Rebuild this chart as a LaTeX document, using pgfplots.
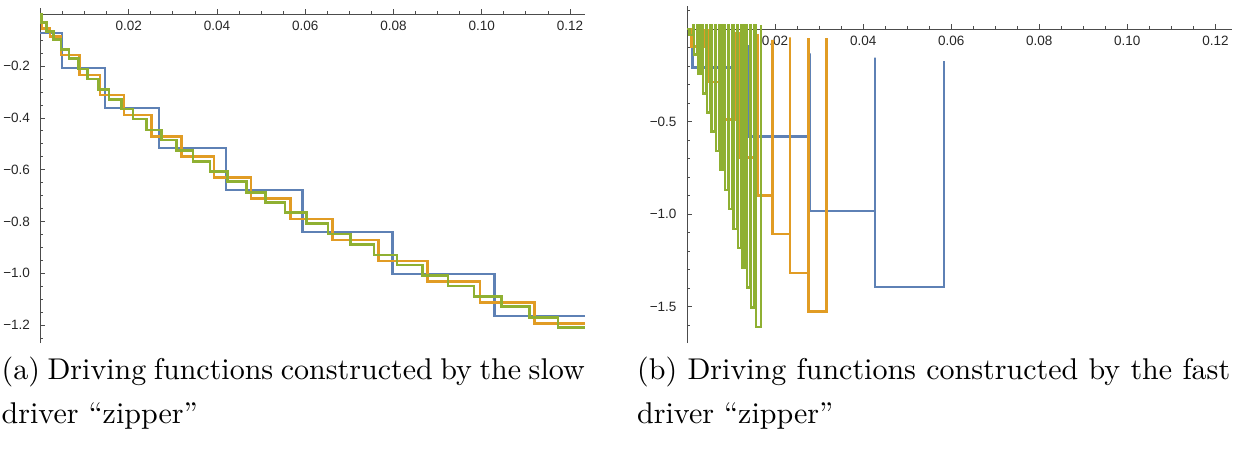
\documentclass[border=0pt]{standalone}
\usepackage{fontspec}
\usepackage{pgfplots}
\pgfplotsset{compat=1.18}
\newfontfamily\ticksans{Liberation Sans}
\newfontfamily\capfont{lmroman10-regular}[Extension=.otf, Ligatures=TeX]
\definecolor{mblue}{rgb}{0.368417,0.506779,0.709798}
\definecolor{morange}{rgb}{0.880722,0.611041,0.142051}
\definecolor{mgreen}{rgb}{0.560181,0.691569,0.194885}

\pgfplotsset{zipperaxis/.style={
  scale only axis, axis lines=middle,
  axis line style={-, black!70, line width=0.9pt},
  tick align=inside, major tick length=5pt, minor tick length=3pt,
  every tick/.style={black!70, line width=0.8pt},
  xtick={0.02,0.04,0.06,0.08,0.10,0.12},
  xticklabels={0.02,0.04,0.06,0.08,0.10,0.12},
  minor xtick={0.005,0.01,0.015,0.025,0.03,0.035,0.045,0.05,0.055,0.065,0.07,0.075,0.085,0.09,0.095,0.105,0.11,0.115},
  ticklabel style={font=\ticksans\fontsize{13.5}{15}\selectfont, text=black!85},
  xticklabel style={yshift=-3pt},
  yticklabel style={xshift=-7pt},
  xmin=0, clip=false,
  every axis plot/.append style={line width=2.5pt, line join=miter, mark=none},
}}

\begin{document}
\begin{tikzpicture}
\path[use as bounding box] (0pt,0pt) rectangle (1235pt,-460pt);

% slow driver
\begin{axis}[zipperaxis, at={(40.5pt,-343pt)}, anchor=south west,
  width=544.5pt, height=335pt, xmax=0.1234, ymin=-1.269, ymax=0.0243,
  ytick={-1.2,-1,-0.8,-0.6,-0.4,-0.2},
  yticklabels={−1.2,−1.0,−0.8,−0.6,−0.4,−0.2},
  minor ytick={-1.25,-1.15,-1.1,-1.05,-0.95,-0.9,-0.85,-0.75,-0.7,-0.65,-0.55,-0.5,-0.45,-0.35,-0.3,-0.25,-0.15,-0.1,-0.05}]
\addplot[mblue, const plot] coordinates {
(0,-0.072) (0.00487,-0.207) (0.0146,-0.362) (0.0268,-0.516) (0.042,-0.678)
(0.0594,-0.841) (0.0798,-1.003) (0.1029,-1.165) (0.1234,-1.165)};
\addplot[morange, const plot] coordinates {
(0,0) (0.0003,-0.0541) (0.00215,-0.0865) (0.00464,-0.1571) (0.00879,-0.2344)
(0.01348,-0.3116) (0.01891,-0.3888) (0.02519,-0.4726) (0.03198,-0.5498)
(0.03937,-0.6293) (0.04768,-0.7104) (0.05667,-0.7903) (0.06618,-0.8714)
(0.0766,-0.9525) (0.0877,-1.0324) (0.09955,-1.112) (0.112,-1.1931) (0.1234,-1.1931)};
\addplot[mgreen, const plot] coordinates {
(0,0) (0.00027,-0.0324) (0.0014,-0.0672) (0.0029,-0.0965) (0.00464,-0.1351)
(0.00646,-0.1699) (0.00856,-0.2112) (0.0106,-0.2498) (0.01309,-0.2896)
(0.01552,-0.3282) (0.01839,-0.3656) (0.02095,-0.4042) (0.02405,-0.4467)
(0.02745,-0.4853) (0.03085,-0.5266) (0.03461,-0.5691) (0.03839,-0.6077)
(0.0424,-0.6463) (0.0467,-0.6873) (0.05101,-0.7274) (0.05538,-0.766)
(0.06029,-0.8069) (0.06519,-0.8482) (0.07026,-0.888) (0.07554,-0.9293)
(0.08081,-0.968) (0.08657,-1.0093) (0.09237,-1.049) (0.09826,-1.0903)
(0.10446,-1.129) (0.11087,-1.1699) (0.11728,-1.21) (0.1234,-1.21)};
\end{axis}

% fast driver
\begin{axis}[zipperaxis, at={(687pt,-343pt)}, anchor=south west,
  width=544.7pt, height=337pt, xmax=0.1237, ymin=-1.697, ymax=0.1254,
  ytick={-1.5,-1,-0.5},
  yticklabels={−1.5,−1.0,−0.5},
  minor ytick={-1.7,-1.6,-1.4,-1.3,-1.2,-1.1,-0.9,-0.8,-0.7,-0.6,-0.4,-0.3,-0.2,-0.1,0.1}]
\addplot[mblue] coordinates {
(0,0) (0.001294,0) (0.001294,-0.2059) (0.013394,-0.2059) (0.013394,-0.0946)
(0.013916,-0.0946) (0.013916,-0.5811) (0.027923,-0.5811) (0.027923,-0.1303)
(0.027923,-0.9827) (0.042679,-0.9827) (0.042679,-0.1541) (0.042679,-1.3935)
(0.058343,-1.3935) (0.058343,-0.1719)};
\addplot[morange] coordinates {
(0,0) (0.001067,0) (0.001067,-0.0946) (0.004086,-0.0946) (0.004086,-0.004)
(0.004767,-0.004) (0.004767,-0.2854) (0.00765,-0.2854) (0.00765,-0.01)
(0.007832,-0.01) (0.007832,-0.4892) (0.011283,-0.4892) (0.011283,-0.02)
(0.011873,-0.02) (0.011873,-0.6946) (0.015255,-0.6946) (0.015255,-0.031)
(0.016005,-0.031) (0.016005,-0.9005) (0.019455,-0.9005) (0.019455,-0.058)
(0.019455,-1.107) (0.023383,-1.107) (0.023383,-0.044) (0.023383,-1.3195)
(0.027537,-1.3195) (0.027537,-0.049) (0.027537,-1.527) (0.031714,-1.527)
(0.031714,-0.049)};
\addplot[mgreen] coordinates {
(0,0) (0.000568,0) (0.000568,-0.0303) (0.001317,-0.0303) (0.001317,0.02)
(0.001589,0.02) (0.001589,-0.1357) (0.002338,-0.1357) (0.002338,0.02)
(0.002588,0.02) (0.002588,-0.2411) (0.003337,-0.2411) (0.003337,0.02)
(0.003587,0.02) (0.003587,-0.3465) (0.004336,-0.3465) (0.004336,0.02)
(0.004586,0.02) (0.004586,-0.4492) (0.005335,-0.4492) (0.005335,0.02)
(0.005585,0.02) (0.005585,-0.5541) (0.006334,-0.5541) (0.006334,0.02)
(0.006583,0.02) (0.006583,-0.6584) (0.007333,-0.6584) (0.007333,0.02)
(0.007582,0.02) (0.007582,-0.7611) (0.008331,-0.7611) (0.008331,0.02)
(0.008581,0.02) (0.008581,-0.8692) (0.00933,-0.8692) (0.00933,0.02)
(0.00958,0.02) (0.00958,-0.9735) (0.010329,-0.9735) (0.010329,0.02)
(0.010579,0.02) (0.010579,-1.08) (0.011328,-1.08) (0.011328,0.02)
(0.011578,0.02) (0.011578,-1.1843) (0.012327,-1.1843) (0.012327,0.02)
(0.012577,0.02) (0.012577,-1.2924) (0.013326,-1.2924) (0.013326,0.02)
(0.013576,0.02) (0.013576,-1.3973) (0.014325,-1.3973) (0.014325,0.02)
(0.014574,0.02) (0.014574,-1.5054) (0.015324,-1.5054) (0.015324,0.02)
(0.015619,0.02) (0.015619,-1.6114) (0.016754,-1.6114) (0.016754,0.02)};
\end{axis}

% sub-captions
\node[anchor=north west, inner sep=0pt, text width=583pt, align=justify,
  font=\capfont\fontsize{30}{44}\selectfont] at (1.5pt,-357pt)
  {(a) Driving functions constructed by the slow driver “zipper”};
\node[anchor=north west, inner sep=0pt, text width=593pt, align=justify,
  font=\capfont\fontsize{30}{44}\selectfont] at (637pt,-357pt)
  {(b) Driving functions constructed by the fast driver “zipper”};
\end{tikzpicture}
\end{document}
